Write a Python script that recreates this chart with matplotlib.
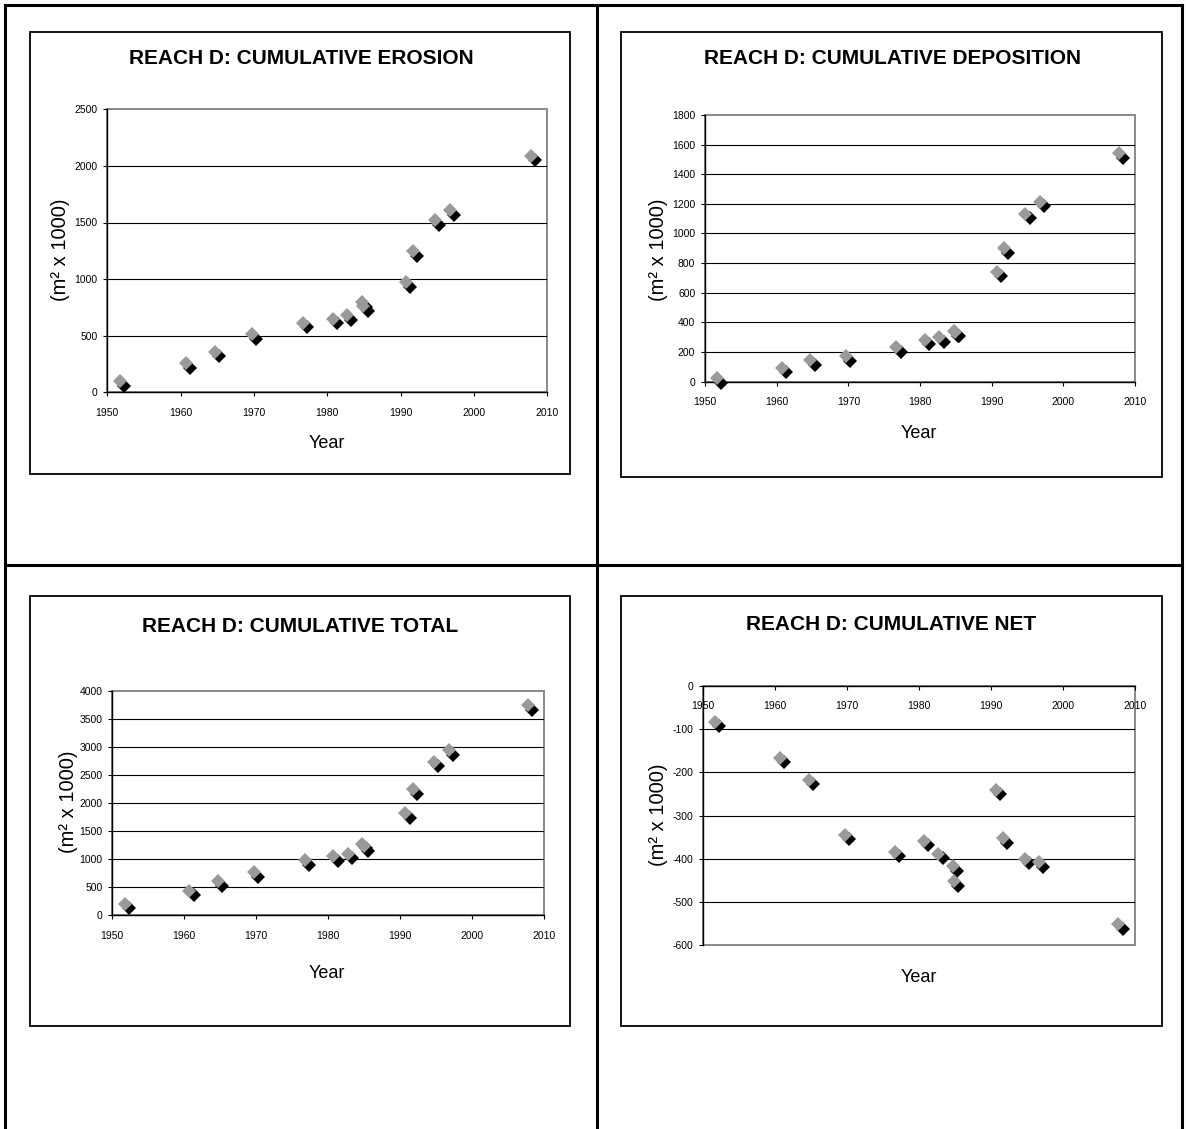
import matplotlib
matplotlib.use("Agg")
import matplotlib.pyplot as plt
from matplotlib.patches import Rectangle
from matplotlib.lines import Line2D
from matplotlib.transforms import ScaledTranslation

plt.rcParams['axes.unicode_minus'] = False

W, H = 1186, 1129
DPI = 100

# Survey years (two surveys in 1985)
years = [1952, 1961, 1965, 1970, 1977, 1981, 1983, 1985, 1985.2,
         1991, 1992, 1995, 1997, 2008]

# Cumulative areas, m^2 x 1000
erosion = [80, 236, 339, 492, 595, 630, 663, 775, 740,
           954, 1228, 1502, 1587, 2070]
deposition = [5, 77, 128, 155, 218, 268, 284, 326, 322,
              727, 885, 1119, 1198, 1527]
total = [166, 398, 571, 731, 939, 1010, 1058, 1235, 1190,
         1777, 2211, 2699, 2901, 3710]
net = [-88, -171, -222, -350, -389, -364, -394, -423, -458,
       -246, -358, -405, -414, -557]

year_ticks = [1950, 1960, 1970, 1980, 1990, 2000, 2010]
erosion_ticks = [0, 500, 1000, 1500, 2000, 2500]
deposition_ticks = [0, 200, 400, 600, 800, 1000, 1200, 1400, 1600, 1800]
total_ticks = [0, 500, 1000, 1500, 2000, 2500, 3000, 3500, 4000]
net_ticks = [-600, -500, -400, -300, -200, -100, 0]

titles = ["REACH D: CUMULATIVE EROSION", "REACH D: CUMULATIVE DEPOSITION",
          "REACH D: CUMULATIVE TOTAL", "REACH D: CUMULATIVE NET"]

NARROW = ['Liberation Sans Narrow', 'Liberation Sans', 'DejaVu Sans']
SANS = ['Liberation Sans', 'DejaVu Sans']

fig = plt.figure(figsize=(W / DPI, H / DPI), dpi=DPI)
fig.patch.set_facecolor('white')


def fx(x):
    return x / W


def fy(y):
    return 1 - y / H


# Page table rules
for x in (5, 596.5, 1182):
    fig.add_artist(Line2D([fx(x), fx(x)], [fy(5), fy(1129)],
                          color='black', lw=2.2))
for y in (5, 565):
    fig.add_artist(Line2D([fx(5), fx(1182)], [fy(y), fy(y)],
                          color='black', lw=2.2))

panels = [
    dict(box=(29.5, 31.5, 570, 474), plot=(107.3, 109.3, 547.3, 392.3),
         title=(301, 59), ylab=(61, 250), xlab=(327, 444),
         vals=erosion, ticks=erosion_ticks),
    dict(box=(620.5, 31.5, 1161.5, 476.8), plot=(705, 115, 1135, 381.5),
         title=(893, 59), ylab=(658, 250), xlab=(919, 433),
         vals=deposition, ticks=deposition_ticks),
    dict(box=(29.5, 596.3, 570, 1025.5), plot=(112.3, 691, 544.3, 915.3),
         title=(300.5, 627), ylab=(68, 802), xlab=(327, 974),
         vals=total, ticks=total_ticks),
    dict(box=(620.5, 595.5, 1162, 1026), plot=(702.7, 686, 1135, 945),
         title=(891, 625), ylab=(658, 815), xlab=(919, 978),
         vals=net, ticks=net_ticks),
]

# marker and its drop shadow, nudged apart around the data point
off_gray = ScaledTranslation(-2.1 / DPI, 2.3 / DPI, fig.dpi_scale_trans)
off_black = ScaledTranslation(2.1 / DPI, -2.3 / DPI, fig.dpi_scale_trans)
MS = 7.4

for p, title in zip(panels, titles):
    bx0, by0, bx1, by1 = p['box']
    fig.add_artist(Rectangle((fx(bx0), fy(by1)), (bx1 - bx0) / W,
                             (by1 - by0) / H, transform=fig.transFigure,
                             fill=False, edgecolor='black', lw=1.3))

    x0, y0, x1, y1 = p['plot']
    ax = fig.add_axes([fx(x0), fy(y1), (x1 - x0) / W, (y1 - y0) / H])
    ticks = p['ticks']
    lo, hi = min(ticks), max(ticks)
    ax.set_xlim(1950, 2010)
    ax.set_ylim(lo, hi)
    ax.set_facecolor('none')

    # plot-area frame
    ax.add_patch(Rectangle((0, 0), 1, 1, transform=ax.transAxes, fill=False,
                           edgecolor='#808080', lw=1.3, clip_on=False,
                           zorder=0.5))
    for t in ticks:
        if lo < t < hi:
            ax.axhline(t, color='black', lw=0.8, zorder=1)

    for s in ('top', 'right'):
        ax.spines[s].set_visible(False)
    ax.spines['left'].set_color('black')
    ax.spines['left'].set_linewidth(1.0)
    ax.spines['bottom'].set_color('black')
    ax.spines['bottom'].set_linewidth(1.0)
    ax.spines['bottom'].set_position(('data', 0))
    ax.spines['left'].set_zorder(2)
    ax.spines['bottom'].set_zorder(2)

    ax.set_xticks(year_ticks)
    ax.set_xticklabels([str(v) for v in year_ticks])
    ax.set_yticks(ticks)
    ax.set_yticklabels([str(v) for v in ticks])
    ax.tick_params(axis='both', direction='out', length=3, width=0.8,
                   color='black', labelsize=7.5)
    ax.tick_params(axis='x', pad=8)
    ax.tick_params(axis='y', pad=4)
    for lab in ax.get_xticklabels() + ax.get_yticklabels():
        lab.set_family(NARROW)

    ax.plot(years, p['vals'], ls='none', marker='D', ms=MS, mfc='black',
            mec='black', mew=0, transform=ax.transData + off_black,
            clip_on=False, zorder=3)
    ax.plot(years, p['vals'], ls='none', marker='D', ms=MS, mfc='#9a9a9a',
            mec='#9a9a9a', mew=0, transform=ax.transData + off_gray,
            clip_on=False, zorder=4)

    tx, ty = p['title']
    fig.text(fx(tx), fy(ty), title, ha='center', va='center', fontsize=15,
             fontweight='bold', family=NARROW)
    lx, ly = p['ylab']
    fig.text(fx(lx), fy(ly), "(m\u00b2 x 1000)", ha='center', va='center',
             rotation=90, fontsize=14.5, family=SANS)
    yx, yy = p['xlab']
    fig.text(fx(yx), fy(yy), "Year", ha='center', va='center', fontsize=13,
             family=SANS)

fig.savefig('out.png', dpi=DPI)
